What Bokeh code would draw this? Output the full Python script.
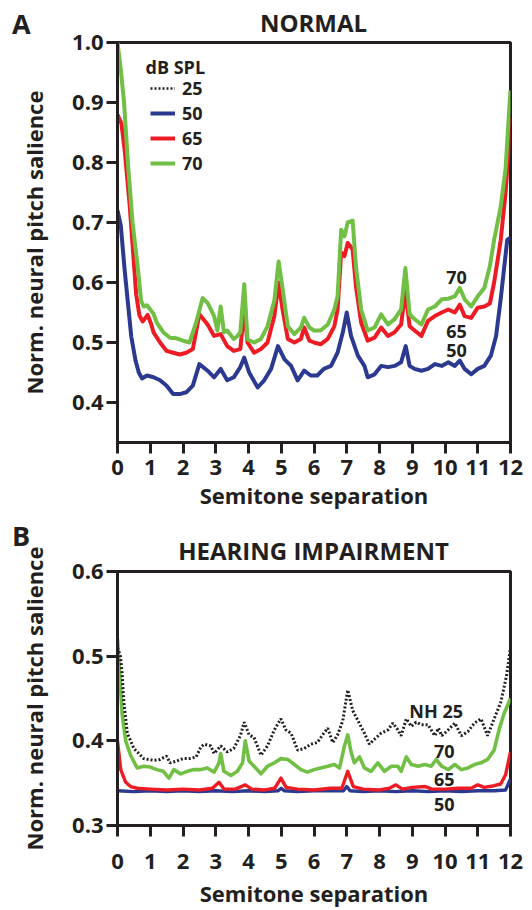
from bokeh.plotting import figure
from bokeh.layouts import column
from bokeh.models import Label, Legend, LegendItem, Range1d, FixedTicker, PrintfTickFormatter, Div
from bokeh.embed import file_html
from bokeh.resources import INLINE

FONT = "Open Sans"
INK = "#231F20"
BLUE = "#2B3990"
RED = "#ED1C24"
GREEN = "#71BF44"

# ---------------- Panel A (NORMAL) ----------------
green_A_x = [0.0, 0.1, 0.2, 0.33, 0.46, 0.63, 0.72, 0.8, 0.9, 1.0, 1.1, 1.2, 1.3, 1.4, 1.6, 1.8, 2.0, 2.2, 2.4,
             2.6, 2.75, 2.95, 3.05, 3.15, 3.25, 3.35, 3.55, 3.65, 3.75, 3.87, 3.97, 4.17, 4.38, 4.58, 4.79, 4.92,
             5.04, 5.2, 5.4, 5.6, 5.7, 5.86, 6.0, 6.2, 6.42, 6.62, 6.72, 6.83, 6.93, 7.03, 7.18, 7.28, 7.44, 7.64,
             7.85, 8.05, 8.26, 8.46, 8.66, 8.79, 8.92, 9.07, 9.28, 9.48, 9.69, 9.9, 10.1, 10.3, 10.45, 10.6, 10.8,
             11.0, 11.2, 11.37, 11.5, 11.7, 11.85, 11.95, 12.0]
green_A_y = [1.0, 0.955, 0.90, 0.79, 0.70, 0.62, 0.57, 0.56, 0.562, 0.555, 0.548, 0.533, 0.525, 0.517, 0.508, 0.507,
             0.503, 0.50, 0.533, 0.574, 0.566, 0.544, 0.52, 0.56, 0.517, 0.52, 0.506, 0.51, 0.517, 0.597, 0.505, 0.50,
             0.506, 0.527, 0.57, 0.635, 0.59, 0.527, 0.514, 0.525, 0.541, 0.525, 0.52, 0.52, 0.53, 0.555, 0.577,
             0.688, 0.677, 0.70, 0.703, 0.627, 0.555, 0.52, 0.525, 0.547, 0.53, 0.539, 0.555, 0.624, 0.547, 0.539,
             0.53, 0.555, 0.56, 0.572, 0.573, 0.577, 0.591, 0.572, 0.56, 0.577, 0.591, 0.627, 0.671, 0.726, 0.79,
             0.88, 0.92]

red_A_x = [0.0, 0.12, 0.22, 0.37, 0.47, 0.57, 0.67, 0.77, 0.92, 1.02, 1.1, 1.3, 1.5, 1.7, 1.9, 2.1, 2.3, 2.5, 2.75,
           2.95, 3.15, 3.35, 3.55, 3.75, 3.87, 3.97, 4.17, 4.38, 4.58, 4.79, 4.92, 5.04, 5.2, 5.4, 5.6, 5.7, 5.86,
           6.0, 6.2, 6.42, 6.62, 6.72, 6.83, 6.93, 7.03, 7.18, 7.28, 7.44, 7.64, 7.85, 8.05, 8.26, 8.46, 8.66, 8.79,
           8.92, 9.07, 9.28, 9.48, 9.69, 9.9, 10.1, 10.3, 10.45, 10.6, 10.8, 11.0, 11.2, 11.37, 11.5, 11.7, 11.85,
           11.95, 12.0]
red_A_y = [0.88, 0.865, 0.82, 0.73, 0.655, 0.58, 0.545, 0.535, 0.546, 0.532, 0.517, 0.50, 0.486, 0.483, 0.48, 0.483,
           0.489, 0.547, 0.53, 0.511, 0.514, 0.494, 0.486, 0.489, 0.555, 0.50, 0.483, 0.489, 0.50, 0.544, 0.60,
           0.555, 0.506, 0.50, 0.506, 0.525, 0.503, 0.50, 0.497, 0.506, 0.527, 0.555, 0.65, 0.644, 0.666, 0.655,
           0.594, 0.533, 0.503, 0.508, 0.525, 0.511, 0.517, 0.53, 0.586, 0.527, 0.52, 0.511, 0.536, 0.544, 0.55,
           0.555, 0.55, 0.563, 0.544, 0.541, 0.558, 0.56, 0.565, 0.60, 0.67, 0.75, 0.83, 0.875]

blue_A_x = [0.0, 0.1, 0.22, 0.32, 0.42, 0.55, 0.65, 0.75, 0.9, 1.1, 1.3, 1.5, 1.7, 1.9, 2.1, 2.3, 2.5, 2.75, 2.95,
            3.15, 3.35, 3.55, 3.75, 3.87, 4.02, 4.28, 4.48, 4.69, 4.9, 5.1, 5.3, 5.5, 5.7, 5.9, 6.1, 6.3, 6.52, 6.72,
            6.88, 7.0, 7.13, 7.34, 7.54, 7.64, 7.85, 8.05, 8.26, 8.46, 8.66, 8.8, 8.92, 9.07, 9.28, 9.48, 9.69, 9.9,
            10.1, 10.3, 10.45, 10.6, 10.8, 11.0, 11.2, 11.4, 11.56, 11.7, 11.9, 12.0]
blue_A_y = [0.72, 0.695, 0.62, 0.565, 0.51, 0.47, 0.45, 0.44, 0.445, 0.442, 0.437, 0.428, 0.414, 0.414, 0.417, 0.428,
            0.464, 0.453, 0.442, 0.456, 0.437, 0.442, 0.459, 0.475, 0.45, 0.425, 0.437, 0.456, 0.494, 0.472, 0.461,
            0.437, 0.453, 0.445, 0.445, 0.456, 0.461, 0.483, 0.517, 0.55, 0.511, 0.478, 0.461, 0.442, 0.447, 0.461,
            0.459, 0.461, 0.467, 0.494, 0.461, 0.456, 0.453, 0.456, 0.464, 0.461, 0.467, 0.461, 0.47, 0.456, 0.447,
            0.456, 0.461, 0.478, 0.511, 0.572, 0.671, 0.675]

# ---------------- Panel B (HEARING IMPAIRMENT) ----------------
black_B_x = [0.0, 0.09, 0.14, 0.19, 0.3, 0.5, 0.8, 1.1, 1.3, 1.5, 1.6, 1.8, 2.0, 2.2, 2.4, 2.55, 2.65, 2.85, 2.95,
             3.15, 3.35, 3.55, 3.75, 3.87, 4.02, 4.17, 4.38, 4.58, 4.79, 4.99, 5.14, 5.3, 5.5, 5.7, 5.9, 6.1, 6.3,
             6.42, 6.57, 6.72, 6.88, 7.03, 7.18, 7.34, 7.54, 7.69, 7.85, 8.05, 8.26, 8.41, 8.56, 8.66, 8.82, 8.97,
             9.12, 9.28, 9.48, 9.69, 9.8, 9.9, 10.1, 10.3, 10.5, 10.7, 10.9, 11.1, 11.3, 11.5, 11.7, 11.88, 12.0]
black_B_y = [0.51, 0.50, 0.48, 0.447, 0.409, 0.391, 0.379, 0.377, 0.378, 0.382, 0.374, 0.376, 0.379, 0.379, 0.381,
             0.393, 0.396, 0.394, 0.385, 0.394, 0.387, 0.391, 0.406, 0.422, 0.407, 0.404, 0.383, 0.394, 0.413, 0.426,
             0.413, 0.409, 0.389, 0.391, 0.396, 0.398, 0.409, 0.415, 0.398, 0.407, 0.424, 0.46, 0.436, 0.424, 0.409,
             0.396, 0.402, 0.409, 0.413, 0.421, 0.413, 0.406, 0.426, 0.417, 0.422, 0.419, 0.419, 0.406, 0.415, 0.406,
             0.413, 0.421, 0.406, 0.411, 0.421, 0.426, 0.406, 0.426, 0.445, 0.477, 0.51]

green_B_x = [0.0, 0.14, 0.25, 0.4, 0.6, 0.8, 1.0, 1.2, 1.4, 1.57, 1.72, 1.93, 2.13, 2.34, 2.54, 2.74, 2.95, 3.1, 3.15,
             3.25, 3.46, 3.66, 3.82, 3.9, 4.02, 4.17, 4.38, 4.58, 4.79, 4.99, 5.2, 5.4, 5.6, 5.8, 6.0, 6.2, 6.42,
             6.62, 6.78, 6.93, 7.03, 7.13, 7.23, 7.39, 7.54, 7.74, 7.95, 8.15, 8.36, 8.56, 8.66, 8.82, 8.97, 9.18,
             9.38, 9.58, 9.73, 9.9, 10.1, 10.3, 10.5, 10.7, 10.9, 11.1, 11.3, 11.5, 11.65, 11.8, 12.0]
green_B_y = [0.52, 0.432, 0.40, 0.383, 0.368, 0.37, 0.369, 0.366, 0.364, 0.356, 0.366, 0.361, 0.364, 0.366, 0.366,
             0.368, 0.363, 0.374, 0.385, 0.364, 0.359, 0.364, 0.374, 0.40, 0.376, 0.37, 0.361, 0.37, 0.374, 0.379,
             0.378, 0.372, 0.366, 0.363, 0.366, 0.368, 0.37, 0.372, 0.368, 0.394, 0.407, 0.387, 0.374, 0.381, 0.368,
             0.364, 0.374, 0.364, 0.37, 0.37, 0.364, 0.381, 0.372, 0.37, 0.372, 0.37, 0.378, 0.37, 0.366, 0.372,
             0.366, 0.368, 0.372, 0.374, 0.378, 0.389, 0.413, 0.432, 0.45]

red_B_x = [0.0, 0.1, 0.25, 0.4, 0.6, 1.0, 1.5, 2.0, 2.5, 2.9, 3.1, 3.25, 3.6, 3.9, 4.1, 4.5, 4.8, 4.99, 5.15, 5.5,
           6.0, 6.5, 6.85, 7.03, 7.2, 7.5, 8.0, 8.3, 8.5, 8.7, 9.0, 9.4, 9.6, 10.0, 10.4, 10.8, 11.0, 11.2, 11.5,
           11.7, 11.85, 12.0]
red_B_y = [0.40, 0.366, 0.351, 0.346, 0.344, 0.343, 0.342, 0.343, 0.342, 0.344, 0.351, 0.343, 0.343, 0.348, 0.343,
           0.342, 0.344, 0.356, 0.345, 0.343, 0.342, 0.344, 0.344, 0.364, 0.346, 0.343, 0.342, 0.344, 0.348, 0.343,
           0.345, 0.346, 0.343, 0.343, 0.344, 0.344, 0.348, 0.345, 0.347, 0.349, 0.36, 0.387]

blue_B_x = [0.0, 0.5, 1.0, 1.5, 2.0, 2.5, 3.0, 3.5, 4.0, 4.5, 4.9, 5.0, 5.1, 5.5, 6.0, 6.5, 6.9, 7.0, 7.1, 7.5, 8.0,
            8.5, 9.0, 9.5, 10.0, 10.5, 11.0, 11.5, 11.85, 12.0]
blue_B_y = [0.341, 0.340, 0.341, 0.340, 0.341, 0.340, 0.341, 0.340, 0.341, 0.340, 0.341, 0.344, 0.341, 0.340, 0.341,
            0.341, 0.341, 0.346, 0.341, 0.340, 0.341, 0.340, 0.341, 0.340, 0.341, 0.340, 0.341, 0.341, 0.342, 0.355]

x_ticks = list(range(0, 13))
yA_ticks = [0.4, 0.5, 0.6, 0.7, 0.8, 0.9, 1.0]
yB_ticks = [0.3, 0.4, 0.5, 0.6]
legend_levels = ["25", "50", "65", "70"]
NAN = float("nan")

TOTAL_W = 532
BL, BR = 117, 22          # left / right borders -> frame spans x 117..510


def style(p, yticks):
    p.border_fill_color = None
    p.outline_line_color = INK
    p.outline_line_width = 3
    p.outline_line_alpha = 1
    p.xgrid.visible = False
    p.ygrid.visible = False
    p.xaxis.ticker = FixedTicker(ticks=x_ticks)
    p.yaxis.ticker = FixedTicker(ticks=yticks)
    p.yaxis.formatter = PrintfTickFormatter(format="%.1f")
    for ax in (p.xaxis[0], p.yaxis[0]):
        ax.axis_line_color = INK
        ax.axis_line_width = 3
        ax.major_tick_line_color = INK
        ax.major_tick_line_width = 3
        ax.major_tick_out = 11
        ax.major_tick_in = 0
        ax.minor_tick_line_color = None
        ax.major_label_text_font = FONT
        ax.major_label_text_font_style = "bold"
        ax.major_label_text_font_size = "22px"
        ax.major_label_text_color = INK
        ax.axis_label_text_font = FONT
        ax.axis_label_text_font_style = "bold"
        ax.axis_label_text_font_size = "22px"
        ax.axis_label_text_color = INK
    p.yaxis.major_label_standoff = 3
    p.xaxis.axis_label = "Semitone separation"
    p.yaxis.axis_label = "Norm. neural pitch salience"
    p.yaxis.axis_label_standoff = 20


def txt(p, x, y, s, size="18px", units="data", align="center", baseline="middle"):
    p.add_layout(Label(x=x, y=y, x_units=units, y_units=units, text=s, text_font=FONT,
                       text_font_style="bold", text_font_size=size, text_color=INK,
                       text_align=align, text_baseline=baseline))


def header(letter, title, height, letter_top, title_top):
    html = ('<div style="position:relative;overflow:visible;width:%dpx;height:%dpx;'
            'font-family:\'Open Sans\',sans-serif;font-weight:bold;color:%s;line-height:1;">'
            '<div style="position:absolute;left:12px;top:%dpx;font-size:27px;">%s</div>'
            '<div style="position:absolute;left:%dpx;width:%dpx;top:%dpx;font-size:24px;text-align:center;'
            'white-space:nowrap;">%s</div></div>'
            % (TOTAL_W, height, INK, letter_top, letter, BL, TOTAL_W - BL - BR, title_top, title))
    return Div(text=html, width=TOTAL_W, height=height, margin=0,
               styles={"overflow": "visible", "z-index": "10"})


# ----- panel A -----
HEAD_A = 26
HA = 512 - HEAD_A
pA = figure(width=TOTAL_W, height=HA, x_range=Range1d(0, 12), y_range=Range1d(1 / 3, 1.0), title=None,
            output_backend="svg", toolbar_location=None,
            min_border_left=BL, min_border_right=BR, min_border_top=42 - HEAD_A, min_border_bottom=68)
style(pA, yA_ticks)
pA.xaxis.major_label_standoff = 6
pA.xaxis.axis_label_standoff = 2
lw = 4
r25 = pA.line([NAN], [NAN], line_color=INK, line_width=2.4, line_dash="2 2")
r50 = pA.line(blue_A_x, blue_A_y, line_color=BLUE, line_width=lw, line_join="round")
r65 = pA.line(red_A_x, red_A_y, line_color=RED, line_width=lw, line_join="round")
r70 = pA.line(green_A_x, green_A_y, line_color=GREEN, line_width=lw, line_join="round")
legend = Legend(items=[LegendItem(label=l, renderers=[r]) for l, r in zip(legend_levels, [r25, r50, r65, r70])],
                location=(33, 267), padding=0, margin=0, spacing=1,
                glyph_width=25, glyph_height=24, label_height=24, label_standoff=7,
                border_line_alpha=0, background_fill_alpha=0,
                label_text_font=FONT, label_text_font_style="bold", label_text_font_size="18px",
                label_text_color=INK)
pA.add_layout(legend)
txt(pA, 28, 376, "dB SPL", units="screen", align="left")
txt(pA, 10.35, 0.609, "70")
txt(pA, 10.35, 0.519, "65")
txt(pA, 10.35, 0.486, "50")

# ----- panel B -----
HEAD_B = 20
HB = 910 - 512 - HEAD_B
pB = figure(width=TOTAL_W, height=HB, x_range=Range1d(0, 12), y_range=Range1d(0.3, 0.6), title=None,
            output_backend="svg", toolbar_location=None,
            min_border_left=BL, min_border_right=BR, min_border_top=571 - 512 - HEAD_B, min_border_bottom=73)
style(pB, yB_ticks)
pB.xaxis.major_label_standoff = 17
pB.xaxis.axis_label_standoff = 6
pB.line(blue_B_x, blue_B_y, line_color=BLUE, line_width=3.4, line_join="round")
pB.line(red_B_x, red_B_y, line_color=RED, line_width=3.4, line_join="round")
pB.line(green_B_x, green_B_y, line_color=GREEN, line_width=3.6, line_join="round")
pB.line(black_B_x, black_B_y, line_color=INK, line_width=3, line_dash="2 2")
txt(pB, 9.73, 0.435, "NH 25")
txt(pB, 9.98, 0.387, "70")
txt(pB, 9.98, 0.354, "65")
txt(pB, 9.98, 0.325, "50")

layout = column(header("A", "NORMAL", HEAD_A, 10, 11), pA,
                header("B", "HEARING IMPAIRMENT", HEAD_B, 10, 27), pB, spacing=0)
open("out.html", "w").write(file_html(layout, INLINE))
